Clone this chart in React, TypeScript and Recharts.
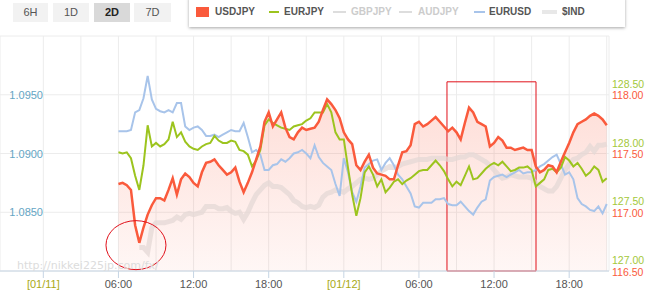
import React from "react";
import {
  ComposedChart,
  Area,
  Line,
  XAxis,
  YAxis,
  CartesianGrid,
  ReferenceArea,
  ReferenceDot,
} from "recharts";

// time axis: hours from 01/11 00:00, one reading every 20 minutes from 06:00
const START_HOUR = 6;
const STEP_HOURS = 1 / 3;

const USDJPY = [
  117.24, 117.25, 117.23, 117.19, 116.89, 116.74, 116.87, 116.98, 117.06, 117.12,
  117.12, 117.10, 117.19, 117.29, 117.15, 117.28, 117.33, 117.30, 117.25, 117.22,
  117.34, 117.42, 117.43, 117.45, 117.40, 117.36, 117.32, 117.34, 117.38, 117.26,
  117.17, 117.25, 117.34, 117.45, 117.56, 117.77, 117.85, 117.73, 117.79, 117.85,
  117.72, 117.64, 117.62, 117.68, 117.72, 117.70, 117.71, 117.72, 117.77, 117.87,
  117.96, 117.92, 117.87, 117.80, 117.68, 117.62, 117.58, 117.40, 117.36, 117.43,
  117.49, 117.38, 117.33, 117.32, 117.31, 117.28, 117.28, 117.40, 117.51, 117.52,
  117.57, 117.75, 117.77, 117.73, 117.75, 117.78, 117.81, 117.77, 117.73, 117.69,
  117.72, 117.68, 117.62, 117.76, 117.89, 117.85, 117.77, 117.75, 117.73, 117.56,
  117.59, 117.64, 117.61, 117.55, 117.55, 117.53, 117.54, 117.55, 117.53, 117.53,
  117.39, 117.34, 117.36, 117.40, 117.39, 117.34, 117.43, 117.51, 117.59, 117.68,
  117.75, 117.77, 117.79, 117.82, 117.84, 117.82, 117.79, 117.74,
];

const EURJPY = [
  128.01, 128.00, 128.01, 127.96, 127.81, 127.69, 127.90, 128.24, 128.06, 128.09,
  128.06, 128.08, 128.12, 128.27, 128.14, 128.18, 128.10, 128.06, 128.04, 128.03,
  128.06, 128.08, 128.09, 128.15, 128.11, 128.09, 128.09, 128.11, 128.10, 128.03,
  128.02, 127.99, 127.89, 127.94, 128.03, 128.24, 128.29, 128.26, 128.24, 128.22,
  128.21, 128.20, 128.23, 128.24, 128.25, 128.28, 128.30, 128.35, 128.35, 128.35,
  128.42, 128.35, 128.18, 128.12, 128.12, 127.88, 127.65, 127.47, 127.62, 127.84,
  127.89, 127.82, 127.72, 127.78, 127.67, 127.71, 127.76, 127.78, 127.74, 127.77,
  127.79, 127.82, 127.85, 127.86, 127.86, 127.90, 127.94, 127.90, 127.85, 127.78,
  127.72, 127.76, 127.73, 127.81, 127.89, 127.78, 127.79, 127.83, 127.87, 127.90,
  127.92, 127.90, 127.93, 127.89, 127.85, 127.86, 127.88, 127.88, 127.89, 127.86,
  127.72, 127.75, 127.78, 127.86, 127.87, 127.84, 127.88, 127.97, 127.94, 127.89,
  127.92, 127.87, 127.81, 127.84, 127.89, 127.86, 127.76, 127.79,
];

const EURUSD = [
  1.0919, 1.0919, 1.0919, 1.0920, 1.0935, 1.0937, 1.0947, 1.0966, 1.0946, 1.0938,
  1.0936, 1.0935, 1.0937, 1.0935, 1.0943, 1.0943, 1.0923, 1.0920, 1.0922, 1.0923,
  1.0920, 1.0915, 1.0915, 1.0916, 1.0914, 1.0916, 1.0918, 1.0920, 1.0919, 1.0919,
  1.0926, 1.0914, 1.0901, 1.0903, 1.0899, 1.0886, 1.0886, 1.0890, 1.0891, 1.0895,
  1.0893, 1.0896, 1.0900, 1.0901, 1.0903, 1.0900, 1.0896, 1.0907, 1.0897, 1.0892,
  1.0889, 1.0886, 1.0874, 1.0864, 1.0896, 1.0884, 1.0867, 1.0859, 1.0872, 1.0888,
  1.0891, 1.0894, 1.0895, 1.0886, 1.0892, 1.0896, 1.0890, 1.0882, 1.0878, 1.0872,
  1.0866, 1.0855, 1.0854, 1.0858, 1.0858, 1.0858, 1.0861, 1.0861, 1.0862, 1.0857,
  1.0856, 1.0856, 1.0859, 1.0855, 1.0851, 1.0848, 1.0854, 1.0859, 1.0861, 1.0877,
  1.0880, 1.0881, 1.0882, 1.0880, 1.0882, 1.0884, 1.0886, 1.0883, 1.0884, 1.0884,
  1.0886, 1.0889, 1.0891, 1.0894, 1.0897, 1.0899, 1.0891, 1.0882, 1.0884, 1.0878,
  1.0862, 1.0857, 1.0855, 1.0852, 1.0851, 1.0855, 1.0849, 1.0857,
];

const DXY = [
  null, null, null, null, null, 98.70, 98.70, 98.66, 98.87, 98.91,
  98.91, 98.91, 98.92, 98.93, 98.96, 98.94, 98.98, 98.99, 98.98, 98.99,
  99.00, 99.05, 99.05, 99.05, 99.03, 99.03, 99.04, 99.01, 98.99, 99.00,
  98.94, 99.00, 99.08, 99.15, 99.19, 99.23, 99.25, 99.22, 99.22, 99.21,
  99.18, 99.15, 99.10, 99.08, 99.05, 99.04, 99.05, 99.04, 99.06, 99.13,
  99.16, 99.17, 99.19, 99.18, 99.17, 99.20, 99.22, 99.25, 99.28, 99.29,
  99.28, 99.29, 99.32, 99.35, 99.37, 99.39, 99.38, 99.39, 99.41, 99.42,
  99.43, 99.44, 99.45, 99.45, 99.45, 99.46, 99.46, 99.46, 99.46, 99.45,
  99.45, 99.46, 99.47, 99.47, 99.49, 99.49, 99.47, 99.45, 99.43, 99.40,
  99.36, 99.32, 99.29, 99.30, 99.32, 99.31, 99.30, 99.30, 99.30, 99.29,
  99.25, 99.22, 99.20, 99.18, 99.18, 99.22, 99.29, 99.36, 99.41, 99.45,
  99.46, 99.49, 99.51, 99.56, 99.52, 99.57, 99.57, 99.58,
];

const X_TICKS = [0, 3, 6, 9, 12, 15, 18, 21, 24, 27, 30, 33, 36, 39, 42, 45];
const X_LABELS: Record<number, string> = {
  0: "[01/11]",
  6: "06:00",
  12: "12:00",
  18: "18:00",
  24: "[01/12]",
  30: "06:00",
  36: "12:00",
  42: "18:00",
};
const EURUSD_TICKS = [1.08, 1.085, 1.09, 1.095];
const EURJPY_TICKS = [127, 127.5, 128, 128.5];
const USDJPY_TICKS = [116.5, 117, 117.5, 118];

// annotations drawn on the screenshot
const BOX = { x1: 32.24, x2: 39.35, y1: 116.5, y2: 118.11 };
const CIRCLE = { x: 7.4, y: 116.72 };

const data = USDJPY.map((v, i) => ({
  t: START_HOUR + i * STEP_HOURS,
  usdjpy: v,
  eurjpy: EURJPY[i],
  eurusd: EURUSD[i],
  dxy: DXY[i],
}));

const FONT = "'Liberation Sans', Arial, sans-serif";
const RED = "#fa5a3c";
const GREEN = "#9cc41e";
const BLUE = "#a8c4ea";

const TimeTick = ({ x, y, payload }: any) => {
  const label = X_LABELS[payload.value];
  if (!label) return <g />;
  const isDate = label.startsWith("[");
  return (
    <g>
      <line x1={x} x2={x} y1={y - 8} y2={y - 1} stroke="#c6d5e4" />
      <text
        x={x}
        y={y + 9}
        textAnchor="middle"
        fill={isDate ? "#a9a914" : "#555"}
        fontSize={11}
        fontFamily={FONT}
      >
        {label}
      </text>
    </g>
  );
};

const UsdTick = ({ y, payload }: any) =>
  payload.value === 1.08 ? (
    <g />
  ) : (
    <text x={43} y={y + 4} textAnchor="end" fill="#64a5c4" fontSize={11} fontFamily={FONT}>
      {payload.value.toFixed(4)}
    </text>
  );

// the two right-hand scales share a gridline: green label sits above it, red on it
const EurJpyTick = ({ y, payload }: any) => (
  <text x={612} y={y - 7} textAnchor="start" fill="#a3c83a" fontSize={10.5} fontFamily={FONT}>
    {payload.value.toFixed(2)}
  </text>
);

const UsdJpyTick = ({ y, payload }: any) => (
  <text x={612} y={y + 4.5} textAnchor="start" fill={RED} fontSize={10.5} fontFamily={FONT}>
    {payload.value.toFixed(2)}
  </text>
);

const buttons = [
  { label: "6H", left: 13, width: 35 },
  { label: "1D", left: 53, width: 36 },
  { label: "2D", left: 94, width: 36, active: true },
  { label: "7D", left: 134, width: 37 },
];

const legendItems = [
  { label: "USDJPY", mark: "square", color: RED, markLeft: 196, markWidth: 13, textLeft: 215, on: true },
  { label: "EURJPY", mark: "line", color: GREEN, markLeft: 269, markWidth: 10, textLeft: 284, on: true },
  { label: "GBPJPY", mark: "line", color: "#dddddd", markLeft: 333, markWidth: 13, textLeft: 351, on: false },
  { label: "AUDJPY", mark: "line", color: "#dddddd", markLeft: 399, markWidth: 13, textLeft: 418, on: false },
  { label: "EURUSD", mark: "line", color: BLUE, markLeft: 474, markWidth: 11, textLeft: 489, on: true },
  { label: "$IND", mark: "thick", color: "#e8e8e8", markLeft: 542, markWidth: 15, textLeft: 562, on: true },
];

export default function App() {
  return (
    <div
      style={{
        position: "absolute",
        left: 0,
        top: 0,
        width: 650,
        height: 292,
        background: "#fff",
        overflow: "hidden",
        fontFamily: FONT,
      }}
    >
      <ComposedChart
        width={650}
        height={292}
        data={data}
        margin={{ top: 36, right: 41, bottom: 0, left: 0 }}
      >
        <defs>
          <linearGradient id="ujFill" x1="0" y1="0" x2="0" y2="1">
            <stop offset="0%" stopColor={RED} stopOpacity={0.2} />
            <stop offset="100%" stopColor={RED} stopOpacity={0.05} />
          </linearGradient>
        </defs>
        <CartesianGrid yAxisId="usd" stroke="#ececec" />
        <XAxis
          dataKey="t"
          type="number"
          domain={[-3.46, 45.18]}
          ticks={X_TICKS}
          interval={0}
          height={21}
          tickLine={false}
          axisLine={{ stroke: "#c6d5e4" }}
          tick={TimeTick}
          allowDataOverflow
        />
        <YAxis
          yAxisId="usd"
          orientation="left"
          mirror
          domain={[1.08, 1.1]}
          ticks={EURUSD_TICKS}
          interval={0}
          axisLine={false}
          tickLine={false}
          tick={UsdTick}
          allowDataOverflow
        />
        <YAxis
          yAxisId="ej"
          orientation="right"
          mirror
          domain={[127, 129]}
          ticks={EURJPY_TICKS}
          interval={0}
          axisLine={false}
          tickLine={false}
          tick={EurJpyTick}
          allowDataOverflow
        />
        <YAxis
          yAxisId="uj"
          orientation="right"
          mirror
          domain={[116.5, 118.5]}
          ticks={USDJPY_TICKS}
          interval={0}
          axisLine={false}
          tickLine={false}
          tick={UsdJpyTick}
          allowDataOverflow
        />
        <YAxis yAxisId="idx" hide domain={[98.5, 100.5]} allowDataOverflow />
        <Area
          yAxisId="uj"
          dataKey="usdjpy"
          type="linear"
          stroke="none"
          fill="url(#ujFill)"
          fillOpacity={1}
          isAnimationActive={false}
        />
        <Line
          yAxisId="idx"
          dataKey="dxy"
          type="linear"
          stroke="#e4d8d6"
          strokeOpacity={0.75}
          strokeWidth={5}
          dot={false}
          isAnimationActive={false}
        />
        <Line
          yAxisId="usd"
          dataKey="eurusd"
          type="linear"
          stroke={BLUE}
          strokeWidth={2}
          dot={false}
          isAnimationActive={false}
        />
        <Line
          yAxisId="ej"
          dataKey="eurjpy"
          type="linear"
          stroke={GREEN}
          strokeWidth={2}
          dot={false}
          isAnimationActive={false}
        />
        <Line
          yAxisId="uj"
          dataKey="usdjpy"
          type="linear"
          stroke={RED}
          strokeWidth={2.5}
          dot={false}
          isAnimationActive={false}
        />
        <ReferenceArea
          yAxisId="uj"
          x1={BOX.x1}
          x2={BOX.x2}
          y1={BOX.y1}
          y2={BOX.y2}
          stroke="#e0101a"
          strokeWidth={1}
          fill="none"
          fillOpacity={0}
          ifOverflow="visible"
        />
        <ReferenceDot
          yAxisId="uj"
          x={CIRCLE.x}
          y={CIRCLE.y}
          r={25}
          ifOverflow="visible"
          shape={(p: any) => (
            <ellipse cx={p.cx} cy={p.cy} rx={30} ry={24.5} fill="none" stroke="#e0101a" strokeWidth={1} />
          )}
        />
      </ComposedChart>

      <div
        style={{
          position: "absolute",
          left: 17,
          top: 259,
          fontFamily: "'DejaVu Sans', sans-serif",
          fontSize: 11,
          lineHeight: "14px",
          color: "#dcdcdc",
          pointerEvents: "none",
          whiteSpace: "nowrap",
        }}
      >
        http://nikkei225jp.com/fx/
      </div>

      {buttons.map((b) => (
        <div
          key={b.label}
          style={{
            position: "absolute",
            left: b.left,
            top: 3,
            width: b.width,
            height: 19,
            lineHeight: "19px",
            textAlign: "center",
            fontSize: 11,
            background: b.active ? "#d9d9d9" : "#f2f2f2",
            color: b.active ? "#222" : "#555",
            fontWeight: b.active ? "bold" : "normal",
          }}
        >
          {b.label}
        </div>
      ))}

      <div
        style={{
          position: "absolute",
          left: 189,
          top: -3,
          width: 436,
          height: 30,
          background: "#fff",
          boxShadow: "0 1px 3px rgba(0,0,0,0.35)",
        }}
      />
      {legendItems.map((it) => (
        <React.Fragment key={it.label}>
          <div
            style={{
              position: "absolute",
              left: it.markLeft,
              top: it.mark === "square" ? 7 : it.mark === "thick" ? 10 : 11,
              width: it.markWidth,
              height: it.mark === "square" ? 10 : it.mark === "thick" ? 4 : 2,
              background: it.color,
            }}
          />
          <div
            style={{
              position: "absolute",
              left: it.textLeft,
              top: 5,
              lineHeight: "14px",
              fontSize: 10,
              fontWeight: "bold",
              color: it.on ? "#555" : "#cccccc",
              whiteSpace: "nowrap",
            }}
          >
            {it.label}
          </div>
        </React.Fragment>
      ))}
    </div>
  );
}
